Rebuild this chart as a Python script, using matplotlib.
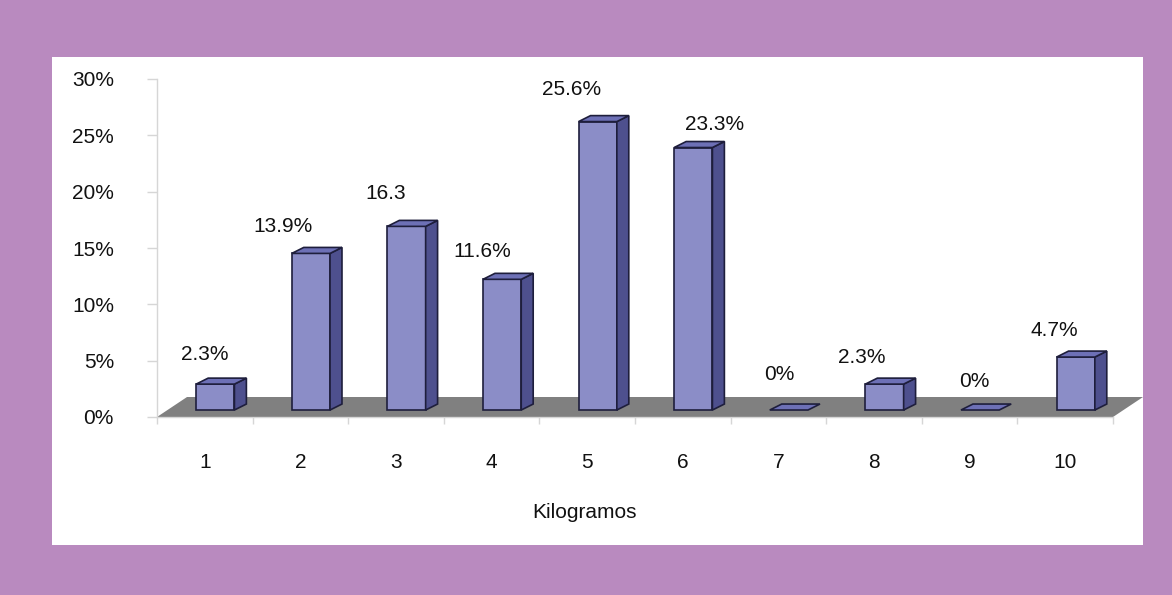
import matplotlib
matplotlib.use('Agg')
import matplotlib.pyplot as plt
from matplotlib.patches import Polygon, Rectangle

plt.rcParams['font.family'] = ['Liberation Sans', 'DejaVu Sans']

# datos
categorias = ['1', '2', '3', '4', '5', '6', '7', '8', '9', '10']
porcentajes = [2.3, 13.9, 16.3, 11.6, 25.6, 23.3, 0, 2.3, 0, 4.7]
etiquetas = ['2.3%', '13.9%', '16.3', '11.6%', '25.6%', '23.3%', '0%', '2.3%', '0%', '4.7%']
y_ticks = [0, 5, 10, 15, 20, 25, 30]
y_ticklabels = ['0%', '5%', '10%', '15%', '20%', '25%', '30%']

# desplazamiento de las etiquetas (pixeles) respecto al centro superior de la barra
label_off = [(-11, 30), (-28, 27), (-21, 33), (-20, 28), (-26, 32),
             (21, 23), (-10, 36), (-23, 27), (-6, 29), (-21, 27)]

# colores
fondo = '#B98ABF'
c_frente = '#8B8DC7'
c_lado = '#4E508E'
c_techo = '#6D70B6'
c_piso = '#808080'
c_borde = '#1E1E3C'
c_eje = '#D6D6D6'
c_texto = '#111111'
fs = 15

# geometria 3D (unidades de datos)
ancho = 0.40
ox, oy = 0.11, 0.62        # posicion de la cara frontal sobre el piso
ddx, ddy = 0.125, 0.53     # profundidad de la barra
px, py = 0.314, 1.775      # profundidad del piso

fig = plt.figure(figsize=(11.72, 5.95), dpi=100)
fig.patch.set_facecolor(fondo)
fig.patches.append(Rectangle((52 / 1172, 1 - 545 / 595), (1143 - 52) / 1172, (545 - 57) / 595,
                             transform=fig.transFigure, facecolor='white', edgecolor='none', zorder=-5))

ax = fig.add_axes([157 / 1172, 178 / 595, 956 / 1172, 338 / 595])
ax.set_zorder(2)
ax.patch.set_alpha(0)
ax.set_xlim(0, 10)
ax.set_ylim(0, 30)

# piso
n = len(categorias)
ax.add_patch(Polygon([(0, 0), (n, 0), (n + px, py), (px, py)], closed=True,
                     facecolor=c_piso, edgecolor='none', clip_on=False, zorder=1))

for i, v in enumerate(porcentajes):
    x0 = i + 0.5 - ancho / 2 + ox
    x1 = x0 + ancho
    y0 = oy
    y1 = oy + v
    if v > 0:
        ax.add_patch(Polygon([(x0, y0), (x1, y0), (x1, y1), (x0, y1)], closed=True,
                             facecolor=c_frente, edgecolor=c_borde, lw=1.2, zorder=3, clip_on=False))
        ax.add_patch(Polygon([(x1, y0), (x1 + ddx, y0 + ddy), (x1 + ddx, y1 + ddy), (x1, y1)], closed=True,
                             facecolor=c_lado, edgecolor=c_borde, lw=1.2, zorder=3, clip_on=False))
    ax.add_patch(Polygon([(x0, y1), (x1, y1), (x1 + ddx, y1 + ddy), (x0 + ddx, y1 + ddy)], closed=True,
                         facecolor=c_techo, edgecolor=c_borde, lw=1.2, zorder=3, clip_on=False))
    ax.annotate(etiquetas[i], xy=((x0 + x1) / 2, y1), xytext=label_off[i],
                textcoords='offset pixels', ha='center', va='center',
                fontsize=fs, color=c_texto, zorder=4, annotation_clip=False)

# ejes
for s in ['top', 'right']:
    ax.spines[s].set_visible(False)
for s in ['left', 'bottom']:
    ax.spines[s].set_color(c_eje)
    ax.spines[s].set_linewidth(1.0)
    ax.spines[s].set_zorder(2)

ax.set_yticks(y_ticks)
ax.set_yticklabels(y_ticklabels)
ax.tick_params(axis='y', length=7, width=1, color=c_eje, pad=24, labelsize=fs, labelcolor=c_texto)

ax.set_xticks(range(n + 1))
ax.set_xticklabels([])
ax.set_xticks([i + 0.5 for i in range(n)], minor=True)
ax.set_xticklabels(categorias, minor=True)
ax.tick_params(axis='x', which='major', length=5, width=1, color=c_eje)
ax.tick_params(axis='x', which='minor', length=0, pad=26, labelsize=fs, labelcolor=c_texto)

fig.text(585 / 1172, 1 - 513 / 595, 'Kilogramos', ha='center', va='center',
         fontsize=fs, color=c_texto)

fig.savefig('out.png', dpi=100, facecolor=fondo)
